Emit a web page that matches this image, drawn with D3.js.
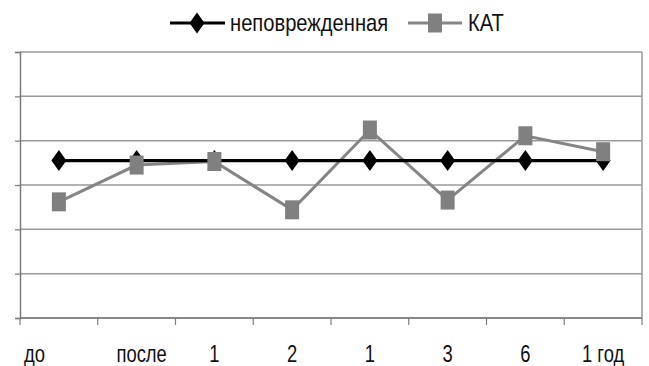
<!DOCTYPE html>
<html>
<head>
<meta charset="utf-8">
<script src="https://cdn.jsdelivr.net/npm/d3@7/dist/d3.min.js"></script>
<style>
  html, body { margin: 0; padding: 0; background: #fff; }
  svg { display: block; }
  text { font-family: "Liberation Sans", Arial, sans-serif; fill: #111; }
</style>
</head>
<body>
<svg id="chart" width="649" height="366"></svg>
<script>
// Time points after surgery
const categories = ["до", "после", "1", "2", "1", "3", "6", "1 год"];
// Series values
const intactValues = [3.55, 3.55, 3.55, 3.55, 3.55, 3.55, 3.55, 3.55];
const katValues = [2.62, 3.45, 3.53, 2.44, 4.24, 2.66, 4.11, 3.75];
const seriesNames = ["неповрежденная", "КАТ"];
const yTicks = [0, 1, 2, 3, 4, 5, 6];

const svg = d3.select("#chart");
const margin = { left: 20, right: 7, top: 52, bottom: 48 };
const W = 649, H = 366;

const x = d3.scaleBand()
  .domain(d3.range(categories.length))
  .range([margin.left, W - margin.right])
  .paddingInner(0).paddingOuter(0);
const y = d3.scaleLinear().domain([0, 6]).range([H - margin.bottom, margin.top]);

const gridColor = "#9a9a9a";

// horizontal gridlines
svg.append("g").selectAll("line").data(yTicks).join("line")
  .attr("x1", margin.left).attr("x2", W - margin.right)
  .attr("y1", d => y(d)).attr("y2", d => y(d))
  .attr("stroke", gridColor).attr("stroke-width", 1.5);

// right border of plot area
svg.append("line")
  .attr("x1", W - margin.right).attr("x2", W - margin.right)
  .attr("y1", y(6)).attr("y2", y(0))
  .attr("stroke", gridColor).attr("stroke-width", 1.5);

// left axis with outward ticks, no labels
const yAxis = svg.append("g")
  .attr("transform", `translate(${margin.left},0)`)
  .call(d3.axisLeft(y).tickValues(yTicks).tickSize(5).tickFormat(""));
yAxis.select(".domain").attr("stroke", "#7a7a7a").attr("stroke-width", 1.5);
yAxis.selectAll(".tick line").attr("stroke", "#7a7a7a").attr("stroke-width", 1.2);

// bottom axis: ticks at band boundaries
const boundaries = d3.range(categories.length + 1).map(i =>
  i < categories.length ? x(i) : x(categories.length - 1) + x.bandwidth());
const xb = svg.append("g").attr("transform", `translate(0,${y(0)})`);
xb.append("line")
  .attr("x1", margin.left).attr("x2", W - margin.right)
  .attr("stroke", "#7a7a7a").attr("stroke-width", 1.5);
xb.selectAll("line.tk").data(boundaries).join("line").attr("class", "tk")
  .attr("x1", d => d).attr("x2", d => d).attr("y1", 0).attr("y2", 7)
  .attr("stroke", "#7a7a7a").attr("stroke-width", 1.2);

// category labels (condensed by a horizontal scale)
svg.append("g").selectAll("text").data(categories).join("text")
  .attr("transform", (d, i) =>
    `translate(${i === 0 ? x(i) + 4 : x(i) + x.bandwidth() / 2 + (i === 1 ? 5 : 0)},362) scale(0.8,1)`)
  .attr("text-anchor", (d, i) => i === 0 ? "start" : "middle")
  .attr("font-size", 23)
  .text(d => d);

const cx = i => x(i) + x.bandwidth() / 2;
const line = d3.line().x((d, i) => cx(i)).y(d => y(d));

// КАТ series (drawn first, under the black series)
svg.append("path").datum(katValues)
  .attr("d", line).attr("fill", "none")
  .attr("stroke", "#858585").attr("stroke-width", 3);

// intact series
svg.append("path").datum(intactValues)
  .attr("d", line).attr("fill", "none")
  .attr("stroke", "#000").attr("stroke-width", 3.2);

const diamond = (px, py) => `M${px},${py - 10.5}L${px + 7.5},${py}L${px},${py + 10.5}L${px - 7.5},${py}Z`;

svg.append("g").selectAll("path").data(intactValues).join("path")
  .attr("d", (d, i) => diamond(cx(i), y(d)))
  .attr("fill", "#000");

svg.append("g").selectAll("rect").data(katValues).join("rect")
  .attr("x", (d, i) => cx(i) - 7).attr("y", d => y(d) - 9.5)
  .attr("width", 14).attr("height", 19)
  .attr("fill", "#808080");

// legend
const lg = svg.append("g");
const ly = 23;
lg.append("line").attr("x1", 170).attr("x2", 225).attr("y1", ly).attr("y2", ly)
  .attr("stroke", "#000").attr("stroke-width", 3.2);
lg.append("path").attr("d", diamond(197, ly)).attr("fill", "#000");
lg.append("text").attr("transform", `translate(230,31) scale(0.84,1)`)
  .attr("font-size", 24).text(seriesNames[0]);
lg.append("line").attr("x1", 408).attr("x2", 462).attr("y1", ly).attr("y2", ly)
  .attr("stroke", "#858585").attr("stroke-width", 3);
lg.append("rect").attr("x", 428).attr("y", ly - 9.5).attr("width", 14).attr("height", 19).attr("fill", "#808080");
lg.append("text").attr("transform", `translate(468,31) scale(0.84,1)`)
  .attr("font-size", 24).text(seriesNames[1]);
</script>
</body>
</html>
